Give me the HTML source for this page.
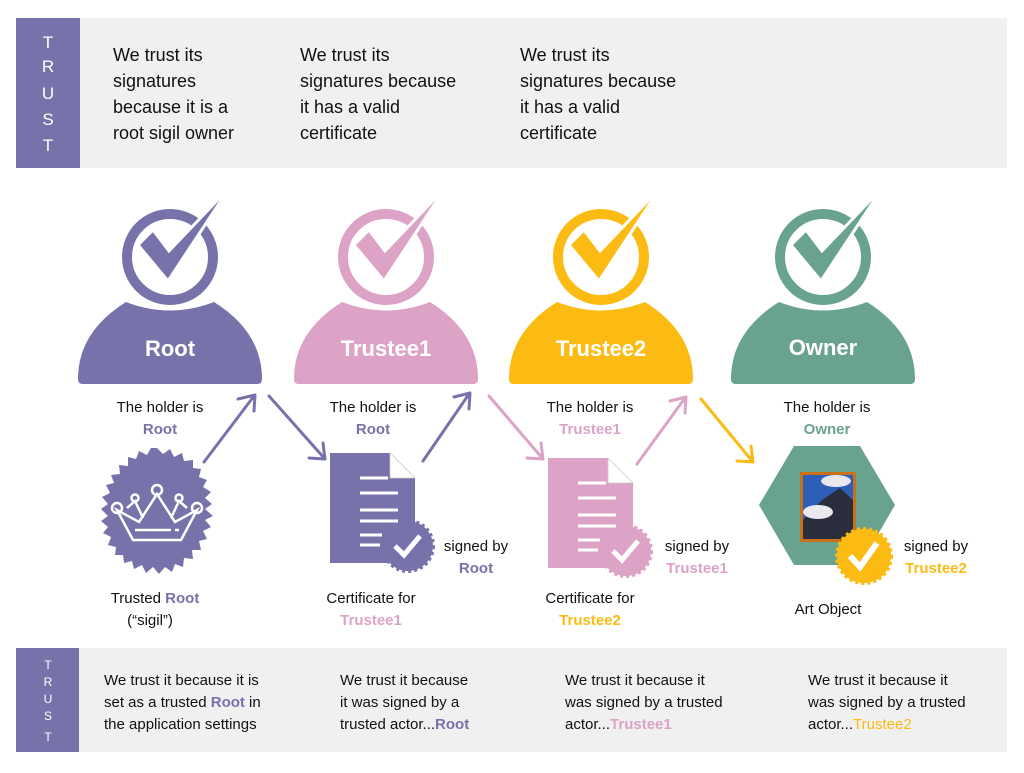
<!DOCTYPE html>
<html><head><meta charset="utf-8"><style>
body{margin:0;background:#fff;}
svg text{font-family:"Liberation Sans",sans-serif;}
</style></head><body>
<svg width="1024" height="768" viewBox="0 0 1024 768" xmlns="http://www.w3.org/2000/svg">
<defs>
<g id="person">
  <circle cx="0" cy="0" r="43" fill="none" stroke-width="10" stroke="currentColor"/>
  <polygon points="-32,-12,-17,-27,-1,-6,60,-70,-2,24" fill="currentColor" stroke="#fff" stroke-width="3"/>
  <path d="M-92,122 Q-92,75 -44,45 Q0,62 44,45 Q92,75 92,122 Q92,127 87,127 L-87,127 Q-92,127 -92,122 Z" fill="currentColor"/>
</g>
</defs>
<!-- top band -->
<rect x="16" y="18" width="991" height="150" fill="#f0f0f0"/>
<rect x="16" y="18" width="64" height="150" fill="#7872ab"/>
<g fill="#fff" font-size="17" text-anchor="middle">
<text x="48" y="48">T</text><text x="48" y="72">R</text><text x="48" y="99">U</text><text x="48" y="125">S</text><text x="48" y="151">T</text>
</g>
<g font-size="18" fill="#111">
<text x="113" y="61">We trust its</text><text x="113" y="87">signatures</text><text x="113" y="113">because it is a</text><text x="113" y="139">root sigil owner</text>
<text x="300" y="61">We trust its</text><text x="300" y="87">signatures because</text><text x="300" y="113">it has a valid</text><text x="300" y="139">certificate</text>
<text x="520" y="61">We trust its</text><text x="520" y="87">signatures because</text><text x="520" y="113">it has a valid</text><text x="520" y="139">certificate</text>
</g>
<!-- persons -->
<use href="#person" x="170" y="257" style="color:#7872ab"/>
<use href="#person" x="386" y="257" style="color:#dca3c7"/>
<use href="#person" x="601" y="257" style="color:#fbbb12"/>
<use href="#person" x="823" y="257" style="color:#69a390"/>
<g fill="#fff" font-size="22" font-weight="bold" text-anchor="middle">
<text x="170" y="356">Root</text><text x="386" y="356">Trustee1</text><text x="601" y="356">Trustee2</text><text x="823" y="355">Owner</text>
</g>
<!-- holder labels -->
<g font-size="15" text-anchor="middle">
<text x="160" y="412" fill="#111">The holder is</text><text x="160" y="434" fill="#7872ab" font-weight="bold">Root</text>
<text x="373" y="412" fill="#111">The holder is</text><text x="373" y="434" fill="#7872ab" font-weight="bold">Root</text>
<text x="590" y="412" fill="#111">The holder is</text><text x="590" y="434" fill="#dca3c7" font-weight="bold">Trustee1</text>
<text x="827" y="412" fill="#111">The holder is</text><text x="827" y="434" fill="#69a390" font-weight="bold">Owner</text>
</g>
<!-- arrows -->
<g fill="none" stroke-width="3" stroke-linecap="round" stroke-linejoin="round">
<path d="M204,462 L254,396 M238,399 L255,395 L254,411" stroke="#7872ab"/>
<path d="M269,396 L325,459 M309,458 L325,459 L323,443" stroke="#7872ab"/>
<path d="M423,461 L469,394 M454,397 L470,393 L469,409" stroke="#7872ab"/>
<path d="M489,396 L543,459 M527,458 L543,459 L541,443" stroke="#dca3c7"/>
<path d="M637,464 L685,398 M670,401 L686,397 L685,413" stroke="#dca3c7"/>
<path d="M701,399 L753,462 M737,461 L753,462 L751,446" stroke="#fbbb12"/>
</g>
<!-- sigil -->
<g transform="translate(157,512)">
<polygon fill="#7872ab" points="0,-64 6,-58 13,-63 17,-55 25,-59 27,-51 36,-52 36,-44 44,-43 42,-35 50,-32 46,-25 54,-20 48,-14 55,-8 48,-3 56,4 48,8 54,15 46,19 50,27 42,29 44,38 35,38 36,47 27,46 26,55 18,52 15,60 8,55 2,62 -4,55 -11,61 -15,53 -23,57 -25,49 -33,51 -34,43 -42,43 -41,35 -49,33 -46,25 -54,21 -49,15 -56,9 -49,4 -56,-3 -49,-8 -55,-15 -47,-19 -51,-27 -43,-29 -46,-37 -37,-38 -38,-47 -29,-46 -29,-55 -21,-53 -18,-61 -10,-57 -6,-64"/>
<g fill="none" stroke="#fff" stroke-width="2.5">
<path d="M-40,-2 L-24,28 L24,28 L40,-2 L18,10 L0,-18 L-18,10 Z"/>
<circle cx="-40" cy="-4" r="5"/><circle cx="40" cy="-4" r="5"/><circle cx="0" cy="-22" r="5"/>
<circle cx="-22" cy="-14" r="3.5"/><circle cx="22" cy="-14" r="3.5"/>
<path d="M-30,-4 L-22,-11 L-14,6 M30,-4 L22,-11 L14,6"/>
<path d="M-22,18 L14,18 M18,18 L22,18"/>
</g>
</g>
<!-- docs -->
<g transform="translate(330,453)">
<path d="M0,0 L60,0 L85,25 L85,110 L0,110 Z" fill="#7872ab"/>
<path d="M60,0 L60,25 L85,25 Z" fill="#fff" stroke="#ccc" stroke-width="0.8"/>
<g stroke="#fff" stroke-width="3"><path d="M30,25 H58 M30,40 H68 M30,57 H68 M30,68 H68 M30,82 H52 M30,92 H50"/></g>
<circle cx="78" cy="93" r="25" fill="#7872ab" stroke="#7872ab" stroke-width="4" stroke-dasharray="3 3"/>
<path d="M65,93 L74,102 L90,83" fill="none" stroke="#fff" stroke-width="5"/>
</g>
<g transform="translate(548,458)">
<path d="M0,0 L60,0 L85,25 L85,110 L0,110 Z" fill="#dca3c7"/>
<path d="M60,0 L60,25 L85,25 Z" fill="#fff" stroke="#ccc" stroke-width="0.8"/>
<g stroke="#fff" stroke-width="3"><path d="M30,25 H58 M30,40 H68 M30,57 H68 M30,68 H68 M30,82 H52 M30,92 H50"/></g>
<circle cx="78" cy="93" r="25" fill="#dca3c7" stroke="#dca3c7" stroke-width="4" stroke-dasharray="3 3"/>
<path d="M65,93 L74,102 L90,83" fill="none" stroke="#fff" stroke-width="5"/>
</g>
<!-- hexagon -->
<polygon points="759,505 794,446 860,446 895,505 860,565 794,565" fill="#69a390"/>
<rect x="800" y="472" width="56" height="70" fill="#c9711a"/>
<rect x="803" y="475" width="50" height="64" fill="#2d5fb8"/>
<path d="M803,539 L803,520 L822,500 L840,488 L853,500 L853,539 Z" fill="#2a2e3c"/>
<ellipse cx="836" cy="481" rx="15" ry="6" fill="#e8e8ee"/>
<ellipse cx="818" cy="512" rx="15" ry="7" fill="#e8e8ee"/>
<circle cx="864" cy="556" r="27" fill="#fbbb12" stroke="#fbbb12" stroke-width="4" stroke-dasharray="3 3"/>
<path d="M850,556 L860,567 L877,543" fill="none" stroke="#fff" stroke-width="6"/>
<!-- signed by -->
<g font-size="15" text-anchor="middle">
<text x="476" y="551" fill="#111">signed by</text><text x="476" y="573" fill="#7872ab" font-weight="bold">Root</text>
<text x="697" y="551" fill="#111">signed by</text><text x="697" y="573" fill="#dca3c7" font-weight="bold">Trustee1</text>
<text x="936" y="551" fill="#111">signed by</text><text x="936" y="573" fill="#fbbb12" font-weight="bold">Trustee2</text>
<text x="155" y="603" fill="#111">Trusted <tspan fill="#7872ab" font-weight="bold">Root</tspan></text>
<text x="150" y="625" fill="#111">(“sigil”)</text>
<text x="371" y="603" fill="#111">Certificate for</text><text x="371" y="625" fill="#dca3c7" font-weight="bold">Trustee1</text>
<text x="590" y="603" fill="#111">Certificate for</text><text x="590" y="625" fill="#fbbb12" font-weight="bold">Trustee2</text>
<text x="828" y="614" fill="#111">Art Object</text>
</g>
<!-- bottom band -->
<rect x="16" y="648" width="991" height="104" fill="#f0f0f0"/>
<rect x="16" y="648" width="63" height="104" fill="#7872ab"/>
<g fill="#fff" font-size="12" text-anchor="middle">
<text x="48" y="669">T</text><text x="48" y="686">R</text><text x="48" y="703">U</text><text x="48" y="720">S</text><text x="48" y="741">T</text>
</g>
<g font-size="15" fill="#111">
<text x="104" y="685">We trust it because it is</text><text x="104" y="707">set as a trusted <tspan fill="#7872ab" font-weight="bold">Root</tspan> in</text><text x="104" y="729">the application settings</text>
<text x="340" y="685">We trust it because</text><text x="340" y="707">it was signed by a</text><text x="340" y="729">trusted actor...<tspan fill="#7872ab" font-weight="bold">Root</tspan></text>
<text x="565" y="685">We trust it because it</text><text x="565" y="707">was signed by a trusted</text><text x="565" y="729">actor...<tspan fill="#dca3c7" font-weight="bold">Trustee1</tspan></text>
<text x="808" y="685">We trust it because it</text><text x="808" y="707">was signed by a trusted</text><text x="808" y="729">actor...<tspan fill="#fbbb12">Trustee2</tspan></text>
</g>
</svg>
</body></html>
